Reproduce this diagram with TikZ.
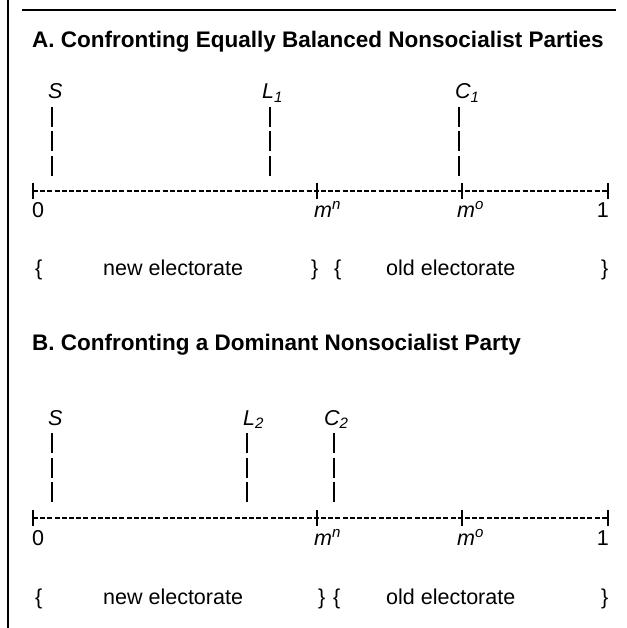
\documentclass[tikz,border=0pt]{standalone}
\usepackage{fontspec}
\setmainfont{Liberation Sans}
\begin{document}
\begin{tikzpicture}[x=1pt,y=-1pt,
  txt/.style={inner sep=0pt, anchor=base west, font=\fontsize{21.5}{24}\selectfont},
  ttl/.style={inner sep=0pt, anchor=base west, font=\fontsize{22.5}{26}\selectfont\bfseries},
  lbl/.style={inner sep=0pt, anchor=base west, font=\fontsize{21.5}{24}\selectfont\itshape},
  pole/.style={line width=1.8pt, dash pattern=on 20pt off 4.5pt},
  axisline/.style={line width=1.3pt, dash pattern=on 5pt off 2.2pt},
  tickmark/.style={line width=1.8pt},
  frame/.style={line width=2pt}]
\useasboundingbox (0,0) rectangle (626,628);
\fill[white] (0,0) rectangle (626,628);
% frame
\coordinate (vl1) at (8,0); \coordinate (vl2) at (8,628);
\draw[frame] (vl1) -- (vl2);
\coordinate (r1) at (22,10); \coordinate (r2) at (616,10);
\draw[frame] (r1) -- (r2);

% ---------------- Panel A
\node[ttl] (tA) at (32,48) {A. Confronting Equally Balanced Nonsocialist Parties};
\node[lbl] (SA) at (48,99) {S};
\node[lbl] (LA) at (262,99) {L\textsubscript{1}};
\node[lbl] (CA) at (455,99) {C\textsubscript{1}};
\coordinate (SAt) at (52,107);  \coordinate (SAb) at (52,177);
\coordinate (LAt) at (270,107); \coordinate (LAb) at (270,177);
\coordinate (CAt) at (459,107); \coordinate (CAb) at (459,177);
\draw[pole] (SAt) -- (SAb);
\draw[pole] (LAt) -- (LAb);
\draw[pole] (CAt) -- (CAb);
\coordinate (a0) at (33,191); \coordinate (amn) at (317,191);
\coordinate (amo) at (462,191); \coordinate (a1) at (608,191);
\draw[axisline] (a0) -- (a1);
\foreach \p in {a0,amn,amo,a1}
  \draw[tickmark] ([yshift=8pt]\p) -- ([yshift=-8pt]\p);
\node[txt] (nA0) at (32,217) {0};
\node[lbl] (nAmn) at (314,217) {m\textsuperscript{n}};
\node[lbl] (nAmo) at (457,217) {m\textsuperscript{o}};
\node[txt, anchor=base east] (nA1) at (609,217) {1};
\node[txt] (bA1) at (35,275) {\{};
\node[txt] (eA1) at (103,275) {new electorate};
\node[txt] (bA2) at (311,275) {\}};
\node[txt] (bA3) at (334,275) {\{};
\node[txt] (eA2) at (386,275) {old electorate};
\node[txt] (bA4) at (601,275) {\}};

% ---------------- Panel B
\node[ttl] (tB) at (32,350) {B. Confronting a Dominant Nonsocialist Party};
\node[lbl] (SB) at (48,425) {S};
\node[lbl] (LB) at (243,425) {L\textsubscript{2}};
\node[lbl] (CB) at (324,425) {C\textsubscript{2}};
\coordinate (SBt) at (52,433);  \coordinate (SBb) at (52,503);
\coordinate (LBt) at (247,433); \coordinate (LBb) at (247,503);
\coordinate (CBt) at (334,433); \coordinate (CBb) at (334,503);
\draw[pole] (SBt) -- (SBb);
\draw[pole] (LBt) -- (LBb);
\draw[pole] (CBt) -- (CBb);
\coordinate (b0) at (33,518); \coordinate (bmn) at (317,518);
\coordinate (bmo) at (462,518); \coordinate (b1) at (608,518);
\draw[axisline] (b0) -- (b1);
\foreach \p in {b0,bmn,bmo,b1}
  \draw[tickmark] ([yshift=8pt]\p) -- ([yshift=-8pt]\p);
\node[txt] (nB0) at (32,545) {0};
\node[lbl] (nBmn) at (314,545) {m\textsuperscript{n}};
\node[lbl] (nBmo) at (457,545) {m\textsuperscript{o}};
\node[txt, anchor=base east] (nB1) at (609,545) {1};
\node[txt] (bB1) at (35,604) {\{};
\node[txt] (eB1) at (103,604) {new electorate};
\node[txt] (bB2) at (318,604) {\}};
\node[txt] (bB3) at (333,604) {\{};
\node[txt] (eB2) at (386,604) {old electorate};
\node[txt] (bB4) at (601,604) {\}};
\end{tikzpicture}
\end{document}
